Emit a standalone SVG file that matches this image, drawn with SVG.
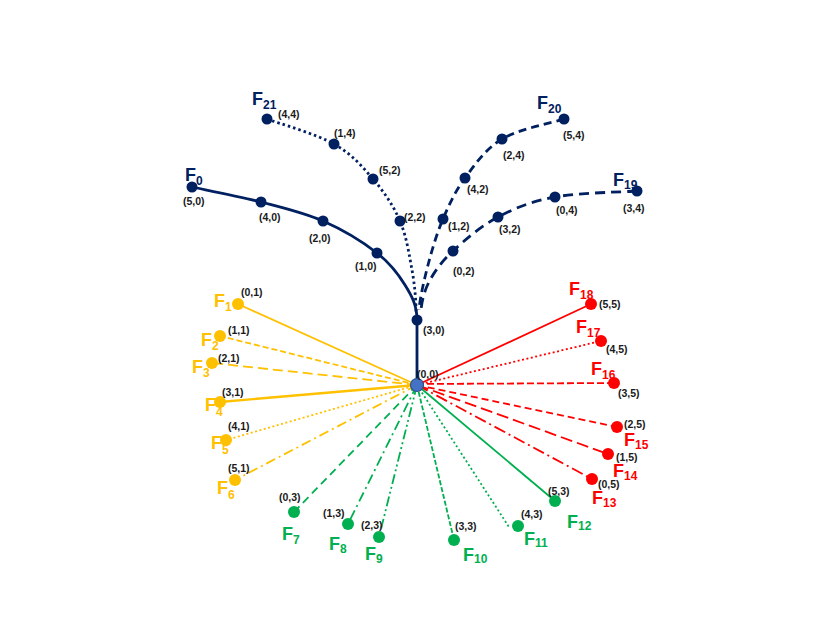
<svg xmlns="http://www.w3.org/2000/svg" width="830" height="642" viewBox="0 0 830 642">
<style>
.bg{fill:#ffffff}
.c{font-family:"Liberation Sans",Arial,sans-serif;font-weight:bold;font-size:10.5px;fill:#1a1a1a}
.F{font-family:"Liberation Sans",Arial,sans-serif;font-weight:bold;font-size:18px}
.sub{font-size:12px}
.nvT{fill:#002060}.yT{fill:#FFC000}.rT{fill:#FF0000}.gT{fill:#00B050}
.nv{fill:#002060}.yl{fill:#FFC000}.rd{fill:#FF0000}.gr{fill:#00B050}
.trunk{fill:none;stroke:#002060;stroke-width:2.8}
.ray{fill:none;stroke-width:1.8}
.ys{stroke:#FFC000}.rs{stroke:#FF0000}.gs{stroke:#00B050}
.dot{stroke-dasharray:2 2.5}
</style>
<rect class="bg" x="0" y="0" width="830" height="642"/>
<g id="connectors">
  <path class="trunk" d="M192,187 C203.5,189.5 239.2,196.3 261,202 C282.8,207.7 303.7,212.5 323,221 C342.3,229.5 363.3,242.3 377,253 C390.7,263.7 398.3,274.2 405,285 C411.7,295.8 417,305 417,320 L417,385"/>
  <path class="trunk" style="stroke-dasharray:2.5 3" d="M267,119 C278.2,123.2 316.3,134 334,144 C351.7,154 362,166.2 373,179 C384,191.8 393.5,205.8 400,221 C406.5,236.2 409.3,255.2 412,270 C414.7,284.8 416,300 416,312"/>
  <path class="trunk" style="stroke-dasharray:8 5" d="M564,119 C553.7,122.3 518.5,129.2 502,139 C485.5,148.8 474.8,164.7 465,178 C455.2,191.3 449.2,204.5 443,219 C436.8,233.5 432,249.8 428,265 C424,280.2 420,298 419,310"/>
  <path class="trunk" style="stroke-dasharray:10 6" d="M637,191 C623.3,192 578.2,192.7 555,197 C531.8,201.3 515,208 498,217 C481,226 464.3,240.5 453,251 C441.7,261.5 435.3,270.5 430,280 C424.7,289.5 422,300 421,310"/>
  <line class="ray ys" x1="417" y1="385" x2="238" y2="304"/>
  <line class="ray ys" style="stroke-dasharray:6 3" x1="417" y1="385" x2="220" y2="336"/>
  <line class="ray ys" style="stroke-dasharray:10 5" x1="417" y1="385" x2="212" y2="363"/>
  <line class="ray ys" style="stroke-width:2.4" x1="417" y1="385" x2="220" y2="402"/>
  <line class="ray ys dot" x1="417" y1="385" x2="226" y2="440"/>
  <line class="ray ys" style="stroke-dasharray:10 4 2 4" x1="417" y1="385" x2="235" y2="480"/>
  <line class="ray rs" x1="417" y1="385" x2="591" y2="304"/>
  <line class="ray rs dot" x1="417" y1="385" x2="601" y2="341"/>
  <line class="ray rs" style="stroke-dasharray:7 3" x1="417" y1="384" x2="614" y2="383"/>
  <line class="ray rs" style="stroke-dasharray:7 4" x1="417" y1="385" x2="617" y2="427"/>
  <line class="ray rs" style="stroke-dasharray:12 5" x1="417" y1="385" x2="608" y2="454"/>
  <line class="ray rs" style="stroke-dasharray:12 4 2 4" x1="417" y1="385" x2="592" y2="479"/>
  <line class="ray gs" style="stroke-dasharray:8 5" x1="417" y1="385" x2="294" y2="512"/>
  <line class="ray gs" style="stroke-dasharray:10 4 2 4" x1="417" y1="385" x2="348" y2="524"/>
  <line class="ray gs" style="stroke-dasharray:10 3 2 3 2 3" x1="417" y1="385" x2="379" y2="537"/>
  <line class="ray gs" style="stroke-dasharray:5 2" x1="417" y1="385" x2="454" y2="540"/>
  <line class="ray gs dot" x1="417" y1="385" x2="509" y2="527"/>
  <line class="ray gs" x1="417" y1="385" x2="555" y2="501"/>
</g>

<g id="n50"><circle class="nv" cx="192" cy="187" r="5.5"/><text class="F nvT" x="185" y="181">F<tspan class="sub" dy="4">0</tspan></text><text class="c" x="183" y="205">(5,0)</text></g>
<g id="n40"><circle class="nv" cx="261" cy="202" r="5.5"/><text class="c" x="259" y="221">(4,0)</text></g>
<g id="n20"><circle class="nv" cx="323" cy="221" r="5.5"/><text class="c" x="309" y="242">(2,0)</text></g>
<g id="n10"><circle class="nv" cx="377" cy="253" r="5.5"/><text class="c" x="355" y="270">(1,0)</text></g>
<g id="n30"><circle class="nv" cx="417" cy="320" r="5.5"/><text class="c" x="423" y="334">(3,0)</text></g>
<g id="n44"><circle class="nv" cx="267" cy="119" r="5.5"/><text class="F nvT" x="252" y="105">F<tspan class="sub" dy="4">21</tspan></text><text class="c" x="278" y="118">(4,4)</text></g>
<g id="n14"><circle class="nv" cx="334" cy="144" r="5.5"/><text class="c" x="334" y="137">(1,4)</text></g>
<g id="n52"><circle class="nv" cx="373" cy="179" r="5.5"/><text class="c" x="379" y="174">(5,2)</text></g>
<g id="n22"><circle class="nv" cx="400" cy="221" r="5.5"/><text class="c" x="404" y="221">(2,2)</text></g>
<g id="n54"><circle class="nv" cx="564" cy="119" r="5.5"/><text class="F nvT" x="537" y="109">F<tspan class="sub" dy="4">20</tspan></text><text class="c" x="563" y="139">(5,4)</text></g>
<g id="n24"><circle class="nv" cx="502" cy="139" r="5.5"/><text class="c" x="503" y="159">(2,4)</text></g>
<g id="n42"><circle class="nv" cx="465" cy="178" r="5.5"/><text class="c" x="467" y="193">(4,2)</text></g>
<g id="n12"><circle class="nv" cx="443" cy="219" r="5.5"/><text class="c" x="448" y="230">(1,2)</text></g>
<g id="n34"><circle class="nv" cx="637" cy="191" r="5.5"/><text class="F nvT" x="613" y="186">F<tspan class="sub" dy="3">19</tspan></text><text class="c" x="623" y="212">(3,4)</text></g>
<g id="n04"><circle class="nv" cx="555" cy="197" r="5.5"/><text class="c" x="556" y="214">(0,4)</text></g>
<g id="n32"><circle class="nv" cx="498" cy="217" r="5.5"/><text class="c" x="499" y="233">(3,2)</text></g>
<g id="n02"><circle class="nv" cx="453" cy="251" r="5.5"/><text class="c" x="453" y="275">(0,2)</text></g>

<g id="n01"><circle class="yl" cx="238" cy="304" r="6"/><text class="F yT" x="214" y="307">F<tspan class="sub" dy="4">1</tspan></text><text class="c" x="241" y="296">(0,1)</text></g>
<g id="n11"><circle class="yl" cx="220" cy="336" r="6"/><text class="F yT" x="201" y="346">F<tspan class="sub" dy="4">2</tspan></text><text class="c" x="228" y="334">(1,1)</text></g>
<g id="n21"><circle class="yl" cx="212" cy="363" r="6"/><text class="F yT" x="192" y="373">F<tspan class="sub" dy="4">3</tspan></text><text class="c" x="218" y="362">(2,1)</text></g>
<g id="n31"><circle class="yl" cx="220" cy="402" r="6"/><text class="F yT" x="205" y="411">F<tspan class="sub" dy="5">4</tspan></text><text class="c" x="222" y="396">(3,1)</text></g>
<g id="n41"><circle class="yl" cx="226" cy="440" r="6"/><text class="F yT" x="211" y="449">F<tspan class="sub" dy="5">5</tspan></text><text class="c" x="228" y="430">(4,1)</text></g>
<g id="n51"><circle class="yl" cx="235" cy="480" r="6"/><text class="F yT" x="217" y="494">F<tspan class="sub" dy="5">6</tspan></text><text class="c" x="228" y="472">(5,1)</text></g>

<g id="n55"><circle class="rd" cx="591" cy="304" r="6"/><text class="F rT" x="569" y="295">F<tspan class="sub" dy="4">18</tspan></text><text class="c" x="599" y="308">(5,5)</text></g>
<g id="n45"><circle class="rd" cx="601" cy="341" r="6"/><text class="F rT" x="576" y="333">F<tspan class="sub" dy="4">17</tspan></text><text class="c" x="606" y="353">(4,5)</text></g>
<g id="n35"><circle class="rd" cx="614" cy="383" r="6"/><text class="F rT" x="591" y="375">F<tspan class="sub" dy="4">16</tspan></text><text class="c" x="618" y="397">(3,5)</text></g>
<g id="n25"><circle class="rd" cx="617" cy="427" r="6"/><text class="F rT" x="624" y="446">F<tspan class="sub" dy="3">15</tspan></text><text class="c" x="624" y="428">(2,5)</text></g>
<g id="n15"><circle class="rd" cx="608" cy="454" r="6"/><text class="F rT" x="613" y="477">F<tspan class="sub" dy="3">14</tspan></text><text class="c" x="616" y="461">(1,5)</text></g>
<g id="n05"><circle class="rd" cx="592" cy="479" r="6"/><text class="F rT" x="592" y="504">F<tspan class="sub" dy="3">13</tspan></text><text class="c" x="598" y="488">(0,5)</text></g>

<g id="n03"><circle class="gr" cx="294" cy="512" r="6"/><text class="F gT" x="282" y="540">F<tspan class="sub" dy="4">7</tspan></text><text class="c" x="279" y="501">(0,3)</text></g>
<g id="n13"><circle class="gr" cx="348" cy="524" r="6"/><text class="F gT" x="329" y="550">F<tspan class="sub" dy="3">8</tspan></text><text class="c" x="323" y="517">(1,3)</text></g>
<g id="n23"><circle class="gr" cx="379" cy="537" r="6"/><text class="F gT" x="365" y="560">F<tspan class="sub" dy="3">9</tspan></text><text class="c" x="361" y="529">(2,3)</text></g>
<g id="n33"><circle class="gr" cx="454" cy="540" r="6"/><text class="F gT" x="463" y="561">F<tspan class="sub" dy="2">10</tspan></text><text class="c" x="455" y="530">(3,3)</text></g>
<g id="n43"><circle class="gr" cx="518" cy="526" r="6"/><text class="F gT" x="524" y="545">F<tspan class="sub" dy="2">11</tspan></text><text class="c" x="521" y="518">(4,3)</text></g>
<g id="n53"><circle class="gr" cx="555" cy="501" r="6"/><text class="F gT" x="567" y="528">F<tspan class="sub" dy="2">12</tspan></text><text class="c" x="548" y="495">(5,3)</text></g>

<g id="n00"><circle cx="417" cy="385" r="6.5" fill="#4472C4" stroke="#2F528F" stroke-width="1.2"/><text class="c" x="417" y="378">(0,0)</text></g>
</svg>
